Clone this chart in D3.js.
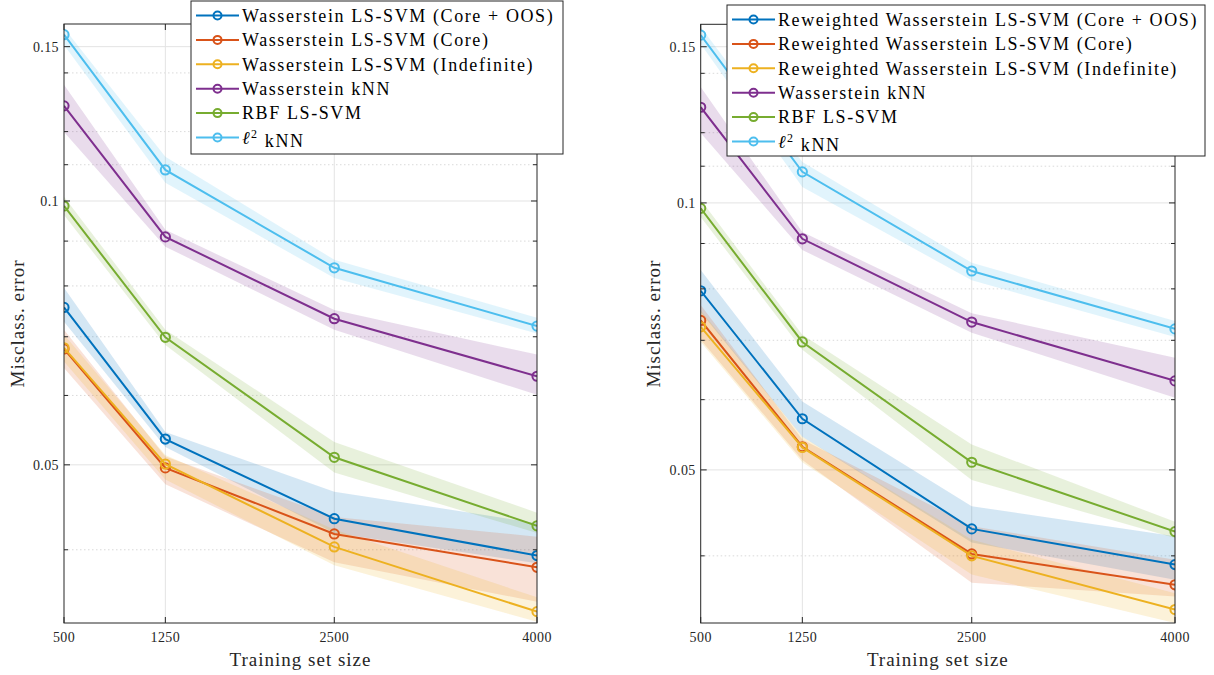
<!DOCTYPE html>
<html>
<head>
<meta charset="utf-8">
<script src="https://cdn.jsdelivr.net/npm/d3@7"></script>
<style>
  body { margin: 0; background: #fff; }
  svg text { font-family: "Liberation Serif", "DejaVu Serif", serif; fill: #262626; }
  .tick-label { font-size: 14px; letter-spacing: 0.4px; }
  .axis-label { font-size: 19px; letter-spacing: 1px; }
  .legend-text { font-size: 18px; fill: #000; letter-spacing: 1.6px; }
</style>
</head>
<body>
<div id="chart"></div>
<script>
var sizes = [500, 1250, 2500, 4000],
    yTicks = [0.05, 0.1, 0.15],
    yMinorTicks = [0.04, 0.06, 0.07, 0.08, 0.09, 0.11, 0.12, 0.14],
    colors = ["#0072BD", "#D95319", "#EDB120", "#7E2F8E", "#77AC30", "#4DBEEE"];

var leftNames = ["Wasserstein LS-SVM (Core + OOS)", "Wasserstein LS-SVM (Core)",
                 "Wasserstein LS-SVM (Indefinite)", "Wasserstein kNN", "RBF LS-SVM", "l2 kNN"];
var rightNames = ["Reweighted Wasserstein LS-SVM (Core + OOS)", "Reweighted Wasserstein LS-SVM (Core)",
                  "Reweighted Wasserstein LS-SVM (Indefinite)", "Wasserstein kNN", "RBF LS-SVM", "l2 kNN"];

// left panel: mean, lower, upper
var leftOosMean = [0.0756, 0.0535, 0.0434, 0.0394],
    leftOosLo   = [0.0728, 0.0524, 0.0418, 0.0386],
    leftOosHi   = [0.0796, 0.0545, 0.0466, 0.0429];
var leftCoreMean = [0.0678, 0.0496, 0.0417, 0.0382],
    leftCoreLo   = [0.0645, 0.0475, 0.0387, 0.0349],
    leftCoreHi   = [0.0713, 0.0511, 0.0436, 0.0414];
var leftIndefMean = [0.0680, 0.0501, 0.0403, 0.0340],
    leftIndefLo   = [0.0656, 0.0481, 0.0384, 0.0331],
    leftIndefHi   = [0.0704, 0.0513, 0.0422, 0.0353];
var leftWknnMean = [0.1284, 0.0910, 0.0734, 0.0631],
    leftWknnLo   = [0.1199, 0.0887, 0.0713, 0.0601],
    leftWknnHi   = [0.1357, 0.0927, 0.0751, 0.0668];
var leftRbfMean = [0.0987, 0.0699, 0.0510, 0.0426],
    leftRbfLo   = [0.0964, 0.0685, 0.0490, 0.0418],
    leftRbfHi   = [0.1011, 0.0713, 0.0531, 0.0441];
var leftL2Mean = [0.1548, 0.1085, 0.0839, 0.0720],
    leftL2Lo   = [0.1507, 0.1049, 0.0817, 0.0706],
    leftL2Hi   = [0.1575, 0.1123, 0.0857, 0.0736];

// right panel: mean, lower, upper
var rightOosMean = [0.0796, 0.0571, 0.0429, 0.0391],
    rightOosLo   = [0.0753, 0.0545, 0.0414, 0.0376],
    rightOosHi   = [0.0840, 0.0597, 0.0455, 0.0421];
var rightCoreMean = [0.0737, 0.0531, 0.0402, 0.0371],
    rightCoreLo   = [0.0701, 0.0513, 0.0373, 0.0360],
    rightCoreHi   = [0.0767, 0.0541, 0.0432, 0.0396];
var rightIndefMean = [0.0725, 0.0530, 0.0400, 0.0348],
    rightIndefLo   = [0.0697, 0.0510, 0.0381, 0.0336],
    rightIndefHi   = [0.0757, 0.0545, 0.0417, 0.0363];
var rightWknnMean = [0.1282, 0.0911, 0.0734, 0.0630],
    rightWknnLo   = [0.1199, 0.0885, 0.0714, 0.0603],
    rightWknnHi   = [0.1351, 0.0927, 0.0751, 0.0669];
var rightRbfMean = [0.0986, 0.0697, 0.0510, 0.0426],
    rightRbfLo   = [0.0964, 0.0683, 0.0487, 0.0419],
    rightRbfHi   = [0.1008, 0.0710, 0.0534, 0.0437];
var rightL2Mean = [0.1546, 0.1084, 0.0838, 0.0721],
    rightL2Lo   = [0.1511, 0.1042, 0.0818, 0.0706],
    rightL2Hi   = [0.1579, 0.1112, 0.0856, 0.0736];

function makeSeries(names, means, los, his) {
  return names.map(function(name, i) {
    return {
      name: name,
      color: colors[i],
      points: sizes.map(function(s, j) {
        return { x: s, y: means[i][j], lo: los[i][j], hi: his[i][j] };
      })
    };
  });
}

var leftSeries = makeSeries(leftNames,
  [leftOosMean, leftCoreMean, leftIndefMean, leftWknnMean, leftRbfMean, leftL2Mean],
  [leftOosLo, leftCoreLo, leftIndefLo, leftWknnLo, leftRbfLo, leftL2Lo],
  [leftOosHi, leftCoreHi, leftIndefHi, leftWknnHi, leftRbfHi, leftL2Hi]);
var rightSeries = makeSeries(rightNames,
  [rightOosMean, rightCoreMean, rightIndefMean, rightWknnMean, rightRbfMean, rightL2Mean],
  [rightOosLo, rightCoreLo, rightIndefLo, rightWknnLo, rightRbfLo, rightL2Lo],
  [rightOosHi, rightCoreHi, rightIndefHi, rightWknnHi, rightRbfHi, rightL2Hi]);

var width = 1214, height = 675;
var svg = d3.select("#chart").append("svg")
    .attr("width", width)
    .attr("height", height);

function drawPanel(series, opts) {
  var x = d3.scaleLinear().domain([500, 4000]).range([opts.left, opts.right]);
  var y = d3.scaleLog().domain(opts.yDomain).range([opts.bottom, opts.top]);
  var g = svg.append("g");
  var axisColor = "#262626";

  // grid
  g.selectAll(".minor-grid").data(yMinorTicks).enter().append("line")
    .attr("x1", opts.left).attr("x2", opts.right)
    .attr("y1", function(d) { return y(d); }).attr("y2", function(d) { return y(d); })
    .attr("stroke", "#d0d0d0").attr("stroke-width", 0.8)
    .attr("stroke-dasharray", "1.5,2.5");
  g.selectAll(".major-grid").data(yTicks).enter().append("line")
    .attr("x1", opts.left).attr("x2", opts.right)
    .attr("y1", function(d) { return y(d); }).attr("y2", function(d) { return y(d); })
    .attr("stroke", "#e3e3e3").attr("stroke-width", 1);
  g.selectAll(".x-grid").data(sizes.slice(1, 3)).enter().append("line")
    .attr("y1", opts.top).attr("y2", opts.bottom)
    .attr("x1", function(d) { return x(d); }).attr("x2", function(d) { return x(d); })
    .attr("stroke", "#e3e3e3").attr("stroke-width", 1);

  var area = d3.area()
    .x(function(p) { return x(p.x); })
    .y0(function(p) { return y(p.lo); })
    .y1(function(p) { return y(p.hi); });
  var line = d3.line()
    .x(function(p) { return x(p.x); })
    .y(function(p) { return y(p.y); });

  var clipId = "clip" + Math.round(opts.left);
  svg.append("clipPath").attr("id", clipId).append("rect")
    .attr("x", opts.left).attr("y", opts.top)
    .attr("width", opts.right - opts.left).attr("height", opts.bottom - opts.top);

  var plot = g.append("g").attr("clip-path", "url(#" + clipId + ")");
  plot.selectAll(".band").data(series).enter().append("path")
    .attr("d", function(s) { return area(s.points); })
    .attr("fill", function(s) { return s.color; })
    .attr("fill-opacity", 0.17);

  series.forEach(function(s) {
    plot.append("path")
      .attr("d", line(s.points))
      .attr("fill", "none")
      .attr("stroke", s.color)
      .attr("stroke-width", 2);
    plot.selectAll(null).data(s.points).enter().append("circle")
      .attr("cx", function(p) { return x(p.x); })
      .attr("cy", function(p) { return y(p.y); })
      .attr("r", 4.6)
      .attr("fill", "none")
      .attr("stroke", s.color)
      .attr("stroke-width", 2);
  });

  // box and ticks
  g.append("rect")
    .attr("x", opts.left).attr("y", opts.top)
    .attr("width", opts.right - opts.left).attr("height", opts.bottom - opts.top)
    .attr("fill", "none").attr("stroke", axisColor).attr("stroke-width", 1);

  var tickG = g.append("g").attr("stroke", axisColor).attr("stroke-width", 1);
  yTicks.forEach(function(t) {
    tickG.append("line").attr("x1", opts.left).attr("x2", opts.left + 6).attr("y1", y(t)).attr("y2", y(t));
    tickG.append("line").attr("x1", opts.right).attr("x2", opts.right - 6).attr("y1", y(t)).attr("y2", y(t));
  });
  yMinorTicks.forEach(function(t) {
    tickG.append("line").attr("x1", opts.left).attr("x2", opts.left + 4).attr("y1", y(t)).attr("y2", y(t));
    tickG.append("line").attr("x1", opts.right).attr("x2", opts.right - 4).attr("y1", y(t)).attr("y2", y(t));
  });
  sizes.forEach(function(t) {
    tickG.append("line").attr("x1", x(t)).attr("x2", x(t)).attr("y1", opts.bottom).attr("y2", opts.bottom - 6);
    tickG.append("line").attr("x1", x(t)).attr("x2", x(t)).attr("y1", opts.top).attr("y2", opts.top + 6);
  });

  g.selectAll(".ytl").data(yTicks).enter().append("text")
    .attr("class", "tick-label")
    .attr("x", opts.left - 5)
    .attr("y", function(d) { return y(d); })
    .attr("dy", "0.35em")
    .attr("text-anchor", "end")
    .text(function(d) { return d3.format("")(d); });
  g.selectAll(".xtl").data(sizes).enter().append("text")
    .attr("class", "tick-label")
    .attr("x", function(d) { return x(d); })
    .attr("y", opts.bottom + 14)
    .attr("dy", "0.35em")
    .attr("text-anchor", "middle")
    .text(function(d) { return d; });

  g.append("text")
    .attr("class", "axis-label")
    .attr("x", (opts.left + opts.right) / 2)
    .attr("y", opts.bottom + 36)
    .attr("dy", "0.35em")
    .attr("text-anchor", "middle")
    .text("Training set size");
  g.append("text")
    .attr("class", "axis-label")
    .attr("transform", "translate(" + (opts.left - 47) + "," + ((opts.top + opts.bottom) / 2) + ") rotate(-90)")
    .attr("dy", "0.35em")
    .attr("text-anchor", "middle")
    .text("Misclass. error");

  // legend
  var lg = g.append("g").attr("transform", "translate(" + opts.legend.x + "," + opts.legend.y + ")");
  lg.append("rect")
    .attr("width", opts.legend.w).attr("height", opts.legend.h)
    .attr("fill", "#fff").attr("stroke", axisColor).attr("stroke-width", 1);
  var rows = lg.selectAll(".row").data(series).enter().append("g")
    .attr("transform", function(s, i) { return "translate(0," + (14.5 + i * 24.4) + ")"; });
  rows.append("line")
    .attr("x1", 5).attr("x2", 48)
    .attr("stroke", function(s) { return s.color; }).attr("stroke-width", 2);
  rows.append("circle")
    .attr("cx", 26.5).attr("r", 4)
    .attr("fill", "none")
    .attr("stroke", function(s) { return s.color; }).attr("stroke-width", 2);
  rows.append("text")
    .attr("class", "legend-text")
    .attr("x", 51)
    .attr("dy", "0.35em")
    .each(function(s) {
      var t = d3.select(this);
      if (s.name === "l2 kNN") {
        t.append("tspan").attr("font-style", "italic").text("\u2113");
        t.append("tspan").attr("dy", "-0.45em").attr("font-size", "12px").text("2");
        t.append("tspan").attr("dy", "0.45em").text(" kNN");
      } else {
        t.text(s.name);
      }
    });
}

drawPanel(leftSeries, {
  left: 64, right: 537, top: 24, bottom: 623,
  yDomain: [0.0330, 0.1592],
  legend: { x: 191, y: 1, w: 372, h: 153 }
});
drawPanel(rightSeries, {
  left: 700.7, right: 1175, top: 24.3, bottom: 623,
  yDomain: [0.0336, 0.1590],
  legend: { x: 727, y: 5, w: 478, h: 151 }
});
</script>
</body>
</html>
